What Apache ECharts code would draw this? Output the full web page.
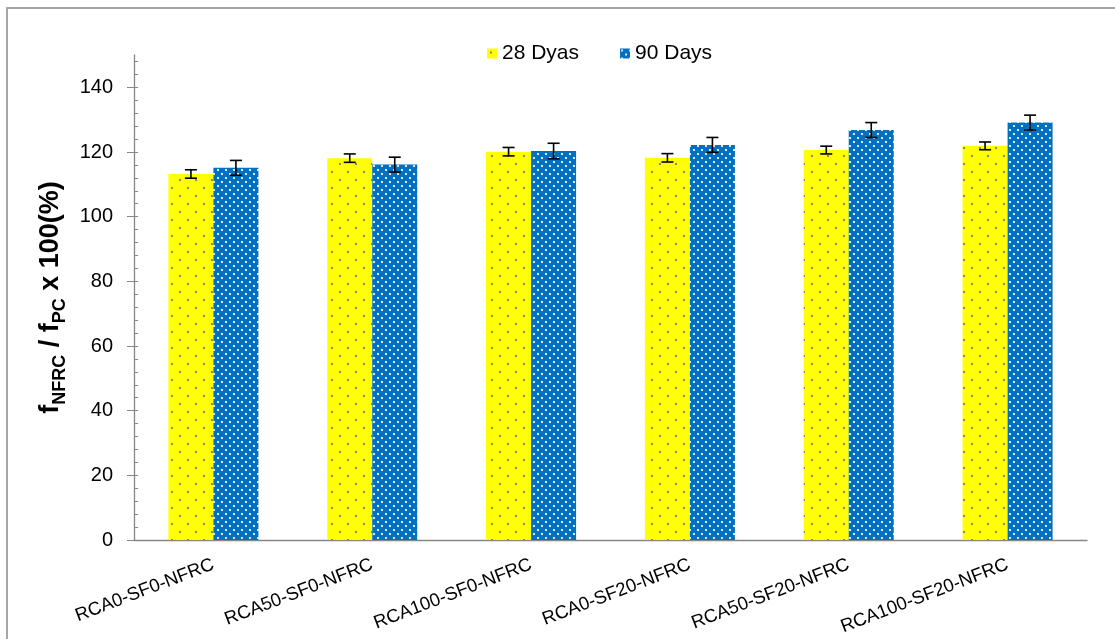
<!DOCTYPE html>
<html><head><meta charset="utf-8">
<script src="https://cdn.jsdelivr.net/npm/echarts@6/dist/echarts.min.js"></script>
<style>html,body{margin:0;padding:0;background:#fff}#c{width:1115px;height:639px}</style>
</head><body><div id="c"></div>
<script>
const categories = ['RCA0-SF0-NFRC','RCA50-SF0-NFRC','RCA100-SF0-NFRC','RCA0-SF20-NFRC','RCA50-SF20-NFRC','RCA100-SF20-NFRC'];
const seriesNames = ['28 Dyas','90 Days'];
const days28 = [113.2, 118.1, 120.1, 118.2, 120.6, 121.9];
const days90 = [115.1, 116.1, 120.3, 122.2, 126.8, 129.1];
const err28 = [1.3, 1.3, 1.3, 1.3, 1.2, 1.2];
const err90 = [2.3, 2.3, 2.4, 2.3, 2.3, 2.3];
const yMajorTicks = [0, 20, 40, 60, 80, 100, 120, 140];
const yMinorTicks = [0,4,8,12,16,20,24,28,32,36,40,44,48,52,56,60,64,68,72,76,80,84,88,92,96,100,104,108,112,116,120,124,128,132,136,140,144,148];

const FONT = 'Liberation Sans, Arial, sans-serif';

function makePattern(w, h, bg, dot, pts, size) {
  const c = document.createElement('canvas');
  c.width = w; c.height = h;
  const g = c.getContext('2d');
  g.fillStyle = bg; g.fillRect(0, 0, w, h);
  g.fillStyle = dot;
  pts.forEach(p => g.fillRect(p[0], p[1], size, size));
  return c;
}
const yellowPat = { image: makePattern(16, 16, '#FFFF00', '#8a8a5c', [[3, 3], [11, 11]], 2), repeat: 'repeat' };
const bluePat = { image: makePattern(8, 8, '#0070C0', '#dbe9f7', [[1, 1], [5, 5]], 2), repeat: 'repeat' };

const BAR_W = 45;

function errSeries(vals, errs, off) {
  return {
    type: 'custom',
    silent: true,
    z: 10,
    data: vals.map((v, i) => [i, v - errs[i], v + errs[i]]),
    encode: { x: 0, y: [1, 2] },
    renderItem(params, api) {
      const i = api.value(0);
      const lo = api.coord([i, api.value(1)]);
      const hi = api.coord([i, api.value(2)]);
      const x = lo[0] + off;
      const hw = 6;
      const st = { stroke: '#000', lineWidth: 1.6 };
      return {
        type: 'group',
        children: [
          { type: 'line', shape: { x1: x, y1: hi[1], x2: x, y2: lo[1] }, style: st },
          { type: 'line', shape: { x1: x - hw, y1: hi[1], x2: x + hw, y2: hi[1] }, style: st },
          { type: 'line', shape: { x1: x - hw, y1: lo[1], x2: x + hw, y2: lo[1] }, style: st }
        ]
      };
    }
  };
}

const chart = echarts.init(document.getElementById('c'));
chart.setOption({
  animation: false,
  backgroundColor: '#fff',
  textStyle: { fontFamily: FONT },
  graphic: [{
    type: 'rect', silent: true, z: -1,
    shape: { x: 7, y: 8, width: 1300, height: 800 },
    style: { fill: 'none', stroke: '#a6a6a6', lineWidth: 2 }
  }],
  legend: {
    data: seriesNames,
    top: 38, left: 482,
    itemWidth: 10, itemHeight: 10, itemGap: 41,
    icon: 'rect',
    textStyle: { fontSize: 21, color: '#000', fontFamily: FONT }
  },
  grid: { left: 134, right: 28, top: 55, bottom: 99, containLabel: false },
  xAxis: {
    type: 'category',
    data: categories,
    axisLine: { lineStyle: { color: '#868686', width: 1.3 } },
    axisTick: { alignWithLabel: true, length: 5, lineStyle: { color: '#868686' } },
    axisLabel: { rotate: 21, fontSize: 18.5, color: '#000', margin: 24, fontFamily: FONT }
  },
  yAxis: [{
    type: 'value', min: 0, max: 150,
    name: '{m|f}{s|NFRC}{m| / f}{s|PC}{m| x 100(%)}',
    nameLocation: 'middle', nameGap: 57, nameRotate: 90,
    nameTextStyle: {
      color: '#000', fontFamily: FONT, fontWeight: 'bold', fontSize: 27,
      rich: {
        m: { fontSize: 27, fontWeight: 'bold', color: '#000', fontFamily: FONT, lineHeight: 36, verticalAlign: 'middle' },
        s: { fontSize: 18, fontWeight: 'bold', color: '#000', fontFamily: FONT, lineHeight: 20, verticalAlign: 'bottom' }
      }
    },
    axisLine: { show: true, lineStyle: { color: '#868686', width: 1.3 } },
    axisTick: { show: true, length: 7, customValues: yMajorTicks, lineStyle: { color: '#868686' } },
    axisLabel: { customValues: yMajorTicks, fontSize: 20, color: '#000', margin: 21, fontFamily: FONT },
    splitLine: { show: false }
  }, {
    type: 'value', min: 0, max: 150, position: 'left',
    axisLine: { show: false },
    axisTick: { show: true, inside: true, length: 4, customValues: yMinorTicks, lineStyle: { color: '#868686' } },
    axisLabel: { show: false },
    splitLine: { show: false }
  }],
  series: [
    { name: seriesNames[0], type: 'bar', data: days28, barWidth: BAR_W, barGap: '0%', itemStyle: { color: yellowPat } },
    { name: seriesNames[1], type: 'bar', data: days90, barWidth: BAR_W, barGap: '0%', itemStyle: { color: bluePat } },
    errSeries(days28, err28, -BAR_W / 2),
    errSeries(days90, err90, BAR_W / 2)
  ]
});
</script></body></html>
